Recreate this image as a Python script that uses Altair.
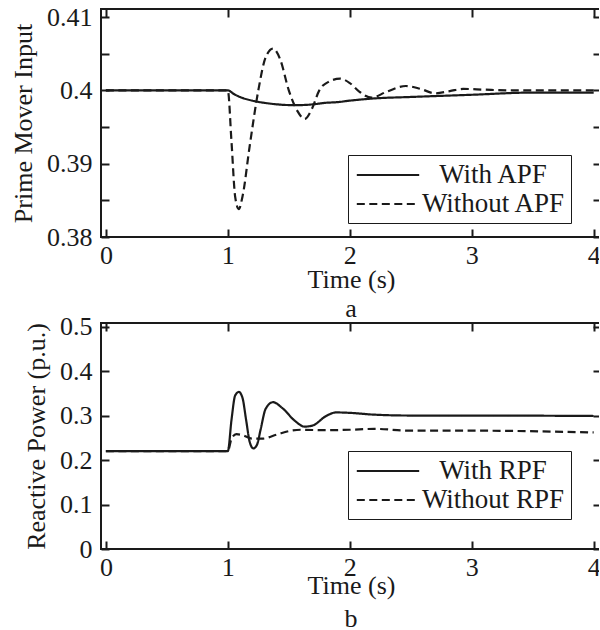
import altair as alt
import pandas as pd

FONT = "Liberation Serif"
INK = "#1a1a1a"

# ---------- Panel a : Prime Mover Input ----------
a_series = ["With APF", "Without APF"]
a_with_t = [0, 0.5, 1.0, 1.05, 1.1, 1.2, 1.3, 1.4, 1.5, 1.6, 1.7, 1.8, 1.9, 2.0, 2.2, 2.5, 3.0, 3.5, 4.0]
a_with_v = [0.4, 0.4, 0.4, 0.3995, 0.3991, 0.3986, 0.3983, 0.3981, 0.398, 0.398, 0.3981, 0.3983,
            0.3984, 0.3986, 0.3989, 0.3991, 0.3994, 0.3997, 0.3997]
a_without_t = [0, 0.5, 1.0, 1.03, 1.06, 1.09, 1.12, 1.18, 1.25, 1.31, 1.37, 1.43, 1.5, 1.57, 1.63,
               1.69, 1.75, 1.83, 1.92, 2.0, 2.08, 2.18, 2.3, 2.46, 2.58, 2.7, 2.82, 2.93, 3.1, 3.3, 4.0]
a_without_v = [0.4, 0.4, 0.4, 0.393, 0.3855, 0.3838, 0.3855, 0.3925, 0.4, 0.4045, 0.4057, 0.4042,
               0.4, 0.3972, 0.3961, 0.3975, 0.4, 0.4012, 0.4016, 0.401, 0.3998, 0.399, 0.3998,
               0.4006, 0.4002, 0.3996, 0.3999, 0.4002, 0.4001, 0.4, 0.4]
a_y_domain = [0.38, 0.4111]
a_y_labels = [0.38, 0.39, 0.40, 0.41]
a_y_ticks = [0.38, 0.385, 0.39, 0.395, 0.40, 0.405, 0.41]

# ---------- Panel b : Reactive Power ----------
b_series = ["With RPF", "Without RPF"]
b_with_t = [0, 0.5, 1.0, 1.03, 1.06, 1.09, 1.12, 1.15, 1.18, 1.21, 1.24, 1.27, 1.31, 1.37, 1.45,
            1.55, 1.63, 1.7, 1.8, 1.89, 2.0, 2.2, 2.5, 3.0, 4.0]
b_with_v = [0.22, 0.22, 0.22, 0.29, 0.345, 0.353, 0.34, 0.29, 0.24, 0.226, 0.235, 0.27, 0.315, 0.33,
            0.316, 0.288, 0.275, 0.278, 0.298, 0.307, 0.306, 0.302, 0.3, 0.3, 0.299]
b_without_t = [0, 0.5, 1.0, 1.03, 1.07, 1.12, 1.2, 1.28, 1.4, 1.5, 1.6, 1.8, 2.0, 2.2, 2.5, 3.0, 4.0]
b_without_v = [0.22, 0.22, 0.22, 0.248, 0.258, 0.256, 0.248, 0.248, 0.257, 0.265, 0.268, 0.267,
               0.268, 0.27, 0.266, 0.266, 0.262]
b_y_domain = [0, 0.508]
b_y_labels = [0, 0.1, 0.2, 0.3, 0.4, 0.5]
b_y_ticks = [0, 0.1, 0.2, 0.3, 0.4, 0.5]

x_domain = [-0.04, 4.06]
x_labels = [0, 1, 2, 3, 4]


def frame(series, t1, v1, t2, v2):
    rows = [{"t": t, "v": v, "s": series[0]} for t, v in zip(t1, v1)]
    rows += [{"t": t, "v": v, "s": series[1]} for t, v in zip(t2, v2)]
    return pd.DataFrame(rows)


def panel(df, series, ydom, ylab, yticks, yfmt, ytitle, caption, leg_y, x_tpad, cap_off, h):
    xs = alt.Scale(domain=x_domain, nice=False, zero=False)
    ys = alt.Scale(domain=ydom, nice=False, zero=False)
    base = alt.Chart(df)
    legend = alt.Legend(
        title=None, orient="none", legendX=247, legendY=leg_y,
        strokeColor=INK, padding=6, fillColor="white",
        symbolType="M-2.4,0H2.4", symbolSize=676, symbolStrokeWidth=2,
        symbolOffset=20, symbolStrokeColor=INK, symbolFillColor="transparent",
        labelFont=FONT, labelFontSize=27, labelAlign="center",
        labelColor=INK, labelOffset=91, rowPadding=2,
    )
    lines = base.mark_line(strokeWidth=2.2, color=INK, interpolate="monotone").encode(
        x=alt.X("t:Q", scale=xs, axis=alt.Axis(
            values=x_labels, ticks=False, domain=False, grid=False, format="d",
            labelPadding=5, title="Time (s)", titlePadding=x_tpad)),
        y=alt.Y("v:Q", scale=ys, axis=alt.Axis(
            values=ylab, format=yfmt, ticks=False, domain=False, grid=False,
            labelPadding=9, title=ytitle, titlePadding=10)),
        strokeDash=alt.StrokeDash("s:N", scale=alt.Scale(domain=series, range=[[1, 0], [8, 4.5]]),
                                  legend=legend),
    )
    tick_bl = base.mark_line(opacity=0).encode(
        x=alt.X("t:Q", scale=xs, axis=alt.Axis(orient="bottom", offset=-8, values=x_labels,
                                               labels=False, domain=False, grid=False,
                                               tickSize=8, title=None)),
        y=alt.Y("v:Q", scale=ys, axis=alt.Axis(orient="left", offset=-8, values=yticks,
                                               labels=False, domain=False, grid=False,
                                               tickSize=8, title=None)),
    )
    tick_tr = base.mark_line(opacity=0).encode(
        x=alt.X("t:Q", scale=xs, axis=alt.Axis(orient="top", offset=-8, values=x_labels,
                                               labels=False, domain=False, grid=False,
                                               tickSize=8, title=None)),
        y=alt.Y("v:Q", scale=ys, axis=alt.Axis(orient="right", offset=-8, values=yticks,
                                               labels=False, domain=False, grid=False,
                                               tickSize=8, title=None)),
    )
    return alt.layer(lines, tick_bl, tick_tr).resolve_axis(
        x="independent", y="independent"
    ).properties(
        width=500, height=h,
        title=alt.TitleParams(caption, orient="bottom", anchor="middle", frame="group",
                              font=FONT, fontSize=26, fontWeight="normal", color=INK,
                              offset=cap_off),
    )


df_a = frame(a_series, a_with_t, a_with_v, a_without_t, a_without_v)
df_b = frame(b_series, b_with_t, b_with_v, b_without_t, b_without_v)

top = panel(df_a, a_series, a_y_domain, a_y_labels, a_y_ticks, ".2~f", "Prime Mover Input",
            "a", 146, -2, 4, 228)
bottom = panel(df_b, b_series, b_y_domain, b_y_labels, b_y_ticks, ".1~f", "Reactive Power (p.u.)",
               "b", 128, -8, 8, 226)

chart = alt.vconcat(top, bottom, spacing=-11).resolve_scale(
    strokeDash="independent"
).resolve_legend(
    strokeDash="independent"
).properties(
    padding={"left": 9, "top": 3, "right": -4, "bottom": 0},
    background="white",
).configure_view(
    stroke=INK, strokeWidth=2
).configure_axis(
    labelFont=FONT, titleFont=FONT, labelFontSize=26, titleFontSize=26,
    labelColor=INK, titleColor=INK, titleFontWeight="normal",
    tickColor=INK, tickWidth=2,
)

chart.save("out.html", embed_options={"renderer": "svg", "actions": False})
